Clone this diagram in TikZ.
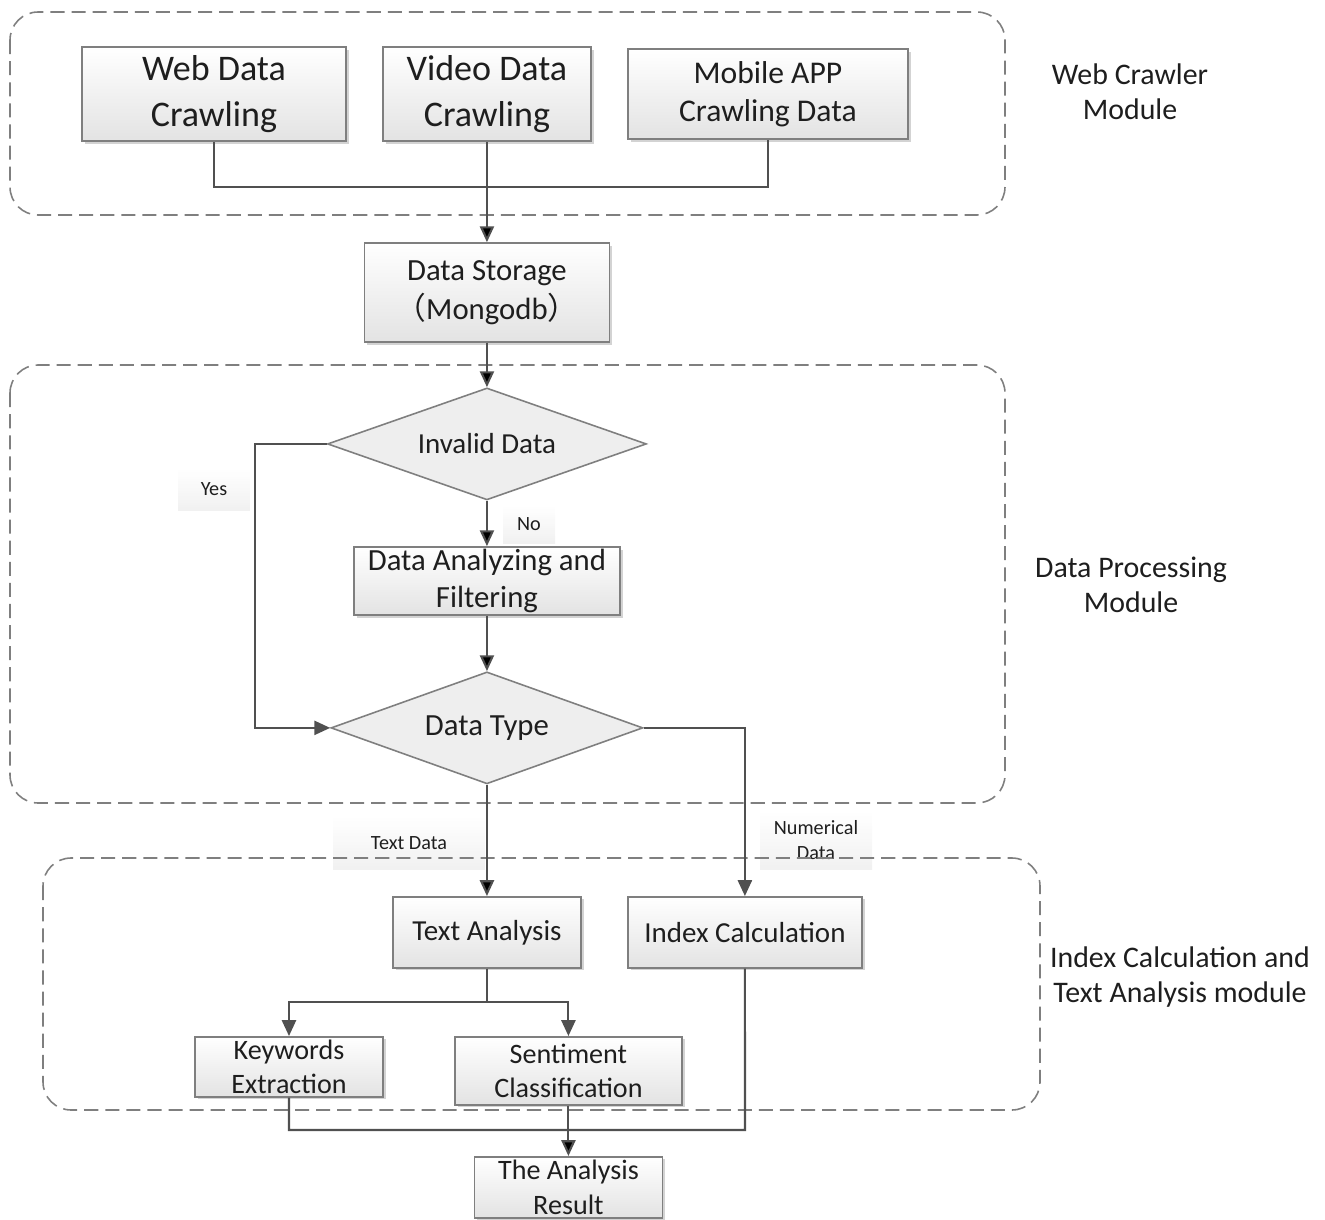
\documentclass[tikz,border=0pt]{standalone}
\usepackage{fontspec}
\setmainfont{Carlito}
\newfontfamily\cjk{Noto Sans CJK SC}
\usepackage{tikz}
\usetikzlibrary{arrows.meta}
\usetikzlibrary{positioning}
\usetikzlibrary{shapes.geometric}
\usetikzlibrary{shadows}

\definecolor{boxline}{HTML}{7F7F7F}
\definecolor{wire}{HTML}{505050}
\definecolor{ink}{HTML}{1E1E1E}

\begin{document}
\begin{tikzpicture}[x=0.02cm, y=-0.02cm, on grid, >={Triangle[length=9pt, width=8pt]},
    box/.style={rectangle, draw=boxline, line width=0.9pt, top color=white, bottom color=gray!22,
      drop shadow={shadow xshift=1.5pt, shadow yshift=-1.5pt, opacity=0.35},
      text=ink, align=center, inner sep=0pt, font=\fontsize{17}{21}\selectfont},
    test/.style={diamond, aspect=2.8, draw=boxline, line width=0.9pt, fill=gray!13,
      text=ink, inner sep=0pt, font=\fontsize{16.5}{20}\selectfont},
    tag/.style={rectangle, top color=white, bottom color=gray!14, fill opacity=0.8, text opacity=1,
      text=ink, align=center, inner sep=0pt, font=\fontsize{11.5}{14.5}\selectfont},
    module/.style={draw=boxline, line width=0.9pt, dash pattern=on 8pt off 4pt, rounded corners=16pt},
    line/.style={draw=wire, line width=1.2pt},
    modlabel/.style={text=ink, align=center, font=\fontsize{17}{20}\selectfont}]
  \useasboundingbox (0,0) rectangle (1325,1220);

  % labels on the branches
  \node[tag, minimum width=1.44cm, minimum height=0.84cm] (yes)  at (214,489) {Yes};
  \node[tag, minimum width=1.04cm, minimum height=0.76cm] (no)   at (529,524) {No};
  \node[tag, minimum width=3.04cm, minimum height=1.06cm] (textdata) at (409,843) {Text Data};
  \node[tag, minimum width=2.24cm, minimum height=1.16cm] (numdata)  at (816,840) {Numerical\\Data};

  % modules
  \draw[module] (10,12) rectangle (1005,215);
  \draw[module] (10,365) rectangle (1005,803);
  \draw[module] (43,858) rectangle (1040,1110);
  \node[modlabel] (crawlermod) at (1130,92)  {Web Crawler\\Module};
  \node[modlabel] (processmod) at (1131,585) {Data Processing\\Module};
  \node[modlabel] (indexmod)   at (1180,977) {Index Calculation and\\Text Analysis module};

  % steps
  \node[box, minimum width=5.28cm, minimum height=1.88cm, font=\fontsize{20.5}{26}\selectfont]
    (web) at (214,94) {Web Data\\Crawling};
  \node[box, minimum width=4.16cm, minimum height=1.88cm, font=\fontsize{20.5}{26}\selectfont]
    (video) [right=5.46cm of web] {Video Data\\Crawling};
  \node[box, minimum width=5.6cm, minimum height=1.8cm, font=\fontsize{18}{21.5}\selectfont]
    (mobile) [right=5.62cm of video] {Mobile APP\\Crawling Data};
  \node[box, minimum width=4.9cm, minimum height=1.98cm, font=\fontsize{17.5}{22}\selectfont]
    (storage) [below=3.97cm of video] {Data Storage\\{\cjk （}Mongodb{\cjk ）}};
  \node[test, minimum width=6.38cm, minimum height=2.24cm] (invalid) [below=3.03cm of storage] {Invalid Data};
  \node[box, minimum width=5.32cm, minimum height=1.36cm, font=\fontsize{17.5}{21.5}\selectfont]
    (analyze) [below=2.74cm of invalid] {Data Analyzing and\\Filtering};
  \node[test, minimum width=6.24cm, minimum height=2.24cm, font=\fontsize{17.5}{20}\selectfont]
    (type) [below=2.94cm of analyze] {Data Type};
  \node[box, minimum width=3.76cm, minimum height=1.42cm, font=\fontsize{16.5}{20}\selectfont]
    (text) [below=4.09cm of type] {Text Analysis};
  \node[box, minimum width=4.68cm, minimum height=1.42cm, font=\fontsize{16.5}{20}\selectfont]
    (index) [right=5.16cm of text] {Index Calculation};
  \node[box, minimum width=3.76cm, minimum height=1.2cm, font=\fontsize{16}{19}\selectfont]
    (keywords) [below left=2.69cm and 3.96cm of text] {Keywords\\Extraction};
  \node[box, minimum width=4.54cm, minimum height=1.36cm, font=\fontsize{16}{19}\selectfont]
    (sentiment) [below right=2.77cm and 1.63cm of text] {Sentiment\\Classification};
  \node[box, minimum width=3.76cm, minimum height=1.22cm, font=\fontsize{16}{20}\selectfont]
    (result) [below=2.33cm of sentiment] {The Analysis\\Result};

  \coordinate (join)  at (487,187);
  \coordinate (split) at ([yshift=-0.66cm]text.south);
  \coordinate (merge) at (745,1130);

  % flow
  \path[line]
    (web.south) |- (join) -| (mobile.south);
  \path[line, ->]
    (video) edge (storage)
    (storage) edge (invalid)
    (invalid) edge (analyze)
    (analyze) edge (type)
    (type) edge (text)
    (sentiment) edge (result);
  \draw[line, ->] (invalid.west) -- ++(-1.44cm,0) |- (type.west);
  \draw[line, ->] (type.east) -| (index.north);
  \draw[line] (text.south) -- (split);
  \draw[line, ->] (split) -| (keywords.north);
  \draw[line, ->] (split) -| (sentiment.north);
  \draw[line] (keywords.south) |- (merge) -- (index.south);
\end{tikzpicture}
\end{document}
